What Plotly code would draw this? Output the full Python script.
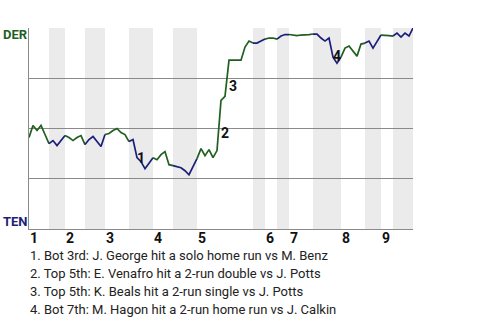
import plotly.graph_objects as go

# ---------------- data ----------------
innings = [1, 2, 3, 4, 5, 6, 7, 8, 9]
# events per half inning (top 1, bot 1, top 2, ... bot 9)
half_inning_events = [5, 4, 5, 5, 6, 6, 5, 6, 14, 3, 3, 3, 6, 7, 6, 4, 3, 5]
# DER win probability after each event (index 0 = first pitch)
wp = [
    0.455, 0.515, 0.49, 0.515, 0.47, 0.425,
    0.44, 0.415, 0.44, 0.465,
    0.455, 0.44, 0.455, 0.465, 0.42,
    0.445, 0.46, 0.435, 0.41, 0.47,
    0.475, 0.49, 0.50, 0.48, 0.47, 0.435,
    0.445, 0.355, 0.335, 0.30, 0.33, 0.355,
    0.345, 0.37, 0.385, 0.32, 0.315,
    0.31, 0.305, 0.29, 0.27, 0.31, 0.35,
    0.40, 0.365, 0.395, 0.355, 0.39, 0.64, 0.66, 0.84, 0.84, 0.84, 0.84, 0.905, 0.935, 0.925,
    0.925, 0.935, 0.945,
    0.95, 0.95, 0.945,
    0.96, 0.9675, 0.9675,
    0.965, 0.9625, 0.965, 0.965, 0.9675, 0.97,
    0.97, 0.95, 0.935, 0.95, 0.855, 0.825, 0.855,
    0.90, 0.91, 0.885, 0.86, 0.92, 0.925,
    0.935, 0.90, 0.93, 0.965,
    0.965, 0.9625, 0.96,
    0.975, 0.955, 0.975, 0.96, 1.0,
]
key_event_index = [27, 48, 50, 76]
key_event_label_wp = [0.355, 0.48, 0.71, 0.86]
key_event_text = [
    "1. Bot 3rd: J. George hit a solo home run vs M. Benz",
    "2. Top 5th: E. Venafro hit a 2-run double vs J. Potts",
    "3. Top 5th: K. Beals hit a 2-run single vs J. Potts",
    "4. Bot 7th: M. Hagon hit a 2-run home run vs J. Calkin",
]
away_team, home_team = "DER", "TEN"

# ---------------- styling ----------------
GREEN = "#1f5f1f"
NAVY = "#1c1f7a"
BAND = "#ebebeb"
GRID = "#8a8a8a"
FONT = "Roboto"

W, H = 480, 320
L, R, T, B = 29, 67, 28, 91
plot_h = H - T - B
plot_w = W - L - R


def py(px):
    """pixel y -> paper y"""
    return (H - B - px) / plot_h


def pxx(px):
    """pixel x -> paper x"""
    return (px - L) / plot_w


fig = go.Figure()

# half-inning boundaries
starts = [0]
for n in half_inning_events:
    starts.append(starts[-1] + n)
n_events = starts[-1]

shapes = []
for h in range(len(half_inning_events)):
    s, e = starts[h], starts[h + 1]
    is_bottom = h % 2 == 1
    if is_bottom:
        shapes.append(dict(type="rect", xref="x", yref="paper", x0=s, x1=e, y0=0, y1=1,
                           fillcolor=BAND, line=dict(width=0), layer="below"))
    xs = list(range(s, e + 1))
    fig.add_trace(go.Scatter(
        x=xs, y=wp[s:e + 1], mode="lines",
        line=dict(color=NAVY if is_bottom else GREEN, width=1.7),
        hoverinfo="skip", showlegend=False))

annotations = []
# inning labels
for i, inn in enumerate(innings):
    annotations.append(dict(x=starts[2 * i], y=py(237.5), xref="x", yref="paper",
                            text=f"<b>{inn}</b>", showarrow=False, xanchor="left",
                            yanchor="middle", xshift=-1,
                            font=dict(family=FONT, size=14, color="#111")))
# key event markers
for k, (idx, lw) in enumerate(zip(key_event_index, key_event_label_wp)):
    annotations.append(dict(x=idx + 1, y=lw, xref="x", yref="y", text=f"<b>{k + 1}</b>",
                            showarrow=False, xanchor="center", yanchor="middle",
                            font=dict(family=FONT, size=14, color="#111")))
# team labels
annotations.append(dict(x=pxx(0.5), y=py(34.5), xref="paper", yref="paper",
                        text=f"<b>{away_team}</b>", showarrow=False, xanchor="left",
                        yanchor="middle", font=dict(family=FONT, size=13, color=GREEN)))
annotations.append(dict(x=pxx(0.5), y=py(221), xref="paper", yref="paper",
                        text=f"<b>{home_team}</b>", showarrow=False, xanchor="left",
                        yanchor="middle", font=dict(family=FONT, size=13, color=NAVY)))
# footnotes
for j, t in enumerate(key_event_text):
    annotations.append(dict(x=0, y=py(255 + 18 * j), xref="paper", yref="paper", text=t,
                            showarrow=False, xanchor="left", yanchor="middle", xshift=-1,
                            font=dict(family=FONT, size=13, color="#222")))

fig.update_layout(
    width=W, height=H,
    margin=dict(l=L, r=R, t=T, b=B, pad=0),
    paper_bgcolor="white", plot_bgcolor="white",
    shapes=shapes, annotations=annotations,
    xaxis=dict(range=[0, n_events], showgrid=False, zeroline=False, showticklabels=False,
               showline=True, linecolor=GRID, linewidth=1, ticks=""),
    yaxis=dict(range=[0, 1], tickvals=[0.25, 0.5, 0.75, 1.0], showgrid=True,
               gridcolor=GRID, gridwidth=1, zeroline=False, showticklabels=False,
               showline=True, linecolor=GRID, linewidth=1, ticks=""),
)

fig.write_html("out.html")
